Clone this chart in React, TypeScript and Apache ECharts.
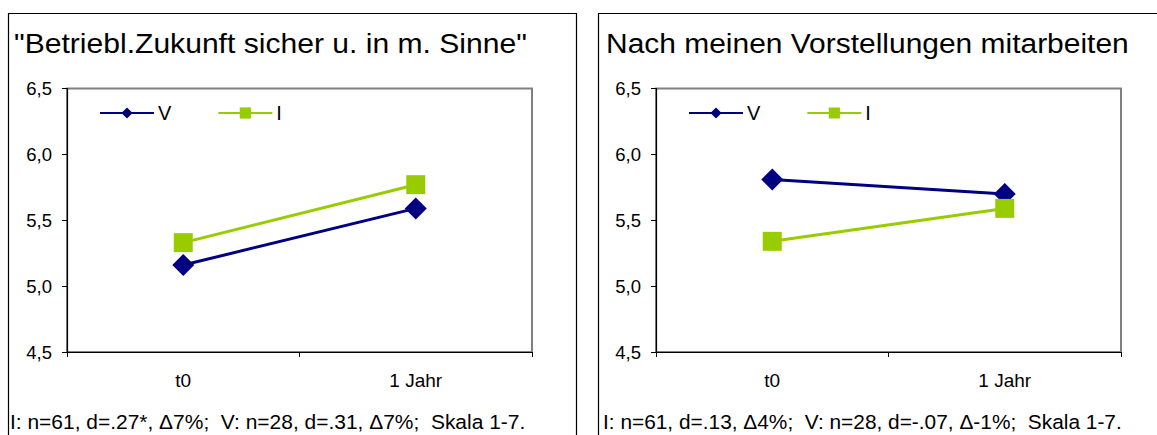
import React, { useEffect, useRef } from "react";
import * as echarts from "echarts";

const categories = ["t0", "1 Jahr"];
const yTicks = { min: 4.5, max: 6.5, interval: 0.5 };

const leftTitle = '"Betriebl.Zukunft sicher u. in m. Sinne"';
const leftV = [5.16, 5.59];
const leftI = [5.33, 5.77];
const leftNote = "I: n=61, d=.27*, \u03947%;  V: n=28, d=.31, \u03947%;  Skala 1-7.";

const rightTitle = "Nach meinen Vorstellungen mitarbeiten";
const rightV = [5.81, 5.70];
const rightI = [5.34, 5.59];
const rightNote = "I: n=61, d=.13, \u03944%;  V: n=28, d=-.07, \u0394-1%;  Skala 1-7.";

const FONT = "'Liberation Sans', Arial, sans-serif";
const NAVY = "#000080";
const GREEN = "#99CC00";

export default function App() {
  const ref = useRef<HTMLDivElement>(null);
  useEffect(() => {
    if (!ref.current) return;
    const chart = echarts.init(ref.current, undefined, { renderer: "svg" });

    const grids = [
      { left: 67, width: 465, top: 88.5, height: 263.5 },
      { left: 656, width: 465, top: 88.5, height: 263.5 },
    ];

    const mkX = (i: number) => ({
      type: "category",
      gridIndex: i,
      data: categories,
      boundaryGap: true,
      axisLine: { show: true, lineStyle: { color: "#000", width: 1.2 } },
      axisTick: { show: true, inside: false, length: 5, alignWithLabel: false, lineStyle: { color: "#000" } },
      axisLabel: { fontFamily: FONT, fontSize: 19, color: "#000", margin: 19 },
      splitLine: { show: false },
    });
    const mkY = (i: number) => ({
      type: "value",
      gridIndex: i,
      min: yTicks.min,
      max: yTicks.max,
      interval: yTicks.interval,
      axisLine: { show: true, lineStyle: { color: "#000", width: 1.2 } },
      axisTick: { show: true, inside: false, length: 5, lineStyle: { color: "#000" } },
      axisLabel: {
        fontFamily: FONT,
        fontSize: 18.5,
        color: "#000",
        margin: 15,
        formatter: (v: number) => v.toFixed(1).replace(".", ","),
      },
      splitLine: { show: false },
    });

    const mkSeries = (name: string, data: number[], i: number, isV: boolean) => ({
      type: "line",
      name,
      xAxisIndex: i,
      yAxisIndex: i,
      data,
      symbol: isV ? "diamond" : "rect",
      symbolSize: isV ? 22 : 19,
      showSymbol: true,
      lineStyle: { color: isV ? NAVY : GREEN, width: 3 },
      itemStyle: { color: isV ? NAVY : GREEN },
      emphasis: { disabled: true },
    });

    const mkLegend = (left: number) => ({
      show: true,
      left,
      top: 103,
      padding: 0,
      itemWidth: 54,
      itemHeight: 14,
      itemGap: 46,
      orient: "horizontal",
      textStyle: { fontFamily: FONT, fontSize: 20, color: "#000", padding: [0, 0, 0, -1] },
    });

    const option: any = {
      animation: false,
      backgroundColor: "#fff",
      grid: grids.map((g) => ({
        ...g,
        show: true,
        backgroundColor: "#fff",
        borderColor: "#808080",
        borderWidth: 2,
        containLabel: false,
      })),
      xAxis: [mkX(0), mkX(1)],
      yAxis: [mkY(0), mkY(1)],
      legend: [
        { ...mkLegend(99), data: ["V", "I"] },
        { ...mkLegend(688), data: ["V\u200b", "I\u200b"] },
      ],
      series: [
        mkSeries("V", leftV, 0, true),
        mkSeries("I", leftI, 0, false),
        mkSeries("V\u200b", rightV, 1, true),
        mkSeries("I\u200b", rightI, 1, false),
      ],
      graphic: [
        {
          type: "rect",
          shape: { x: 8.5, y: 13.5, width: 568, height: 440 },
          style: { fill: "none", stroke: "#000", lineWidth: 1.2 },
          silent: true,
          z: -10,
        },
        {
          type: "rect",
          shape: { x: 598.5, y: 13.5, width: 600, height: 440 },
          style: { fill: "none", stroke: "#000", lineWidth: 1.2 },
          silent: true,
          z: -10,
        },
        {
          type: "text",
          x: 14,
          y: 43,
          scaleX: 1.075,
          style: { text: leftTitle, fontFamily: FONT, fontSize: 28, fill: "#000", verticalAlign: "middle", align: "left" },
        },
        {
          type: "text",
          x: 606,
          y: 43,
          scaleX: 1.07,
          style: { text: rightTitle, fontFamily: FONT, fontSize: 28, fill: "#000", verticalAlign: "middle", align: "left" },
        },
        {
          type: "text",
          x: 10,
          y: 422,
          scaleX: 1.075,
          style: { text: leftNote, fontFamily: FONT, fontSize: 19.5, fill: "#000", verticalAlign: "middle", align: "left" },
        },
        {
          type: "text",
          x: 603,
          y: 422,
          scaleX: 1.07,
          style: { text: rightNote, fontFamily: FONT, fontSize: 19.5, fill: "#000", verticalAlign: "middle", align: "left" },
        },
      ],
    };
    chart.setOption(option);
    return () => chart.dispose();
  }, []);

  return (
    <div
      ref={ref}
      style={{ position: "fixed", left: 0, top: 0, width: 1157, height: 435, background: "#fff" }}
    />
  );
}
